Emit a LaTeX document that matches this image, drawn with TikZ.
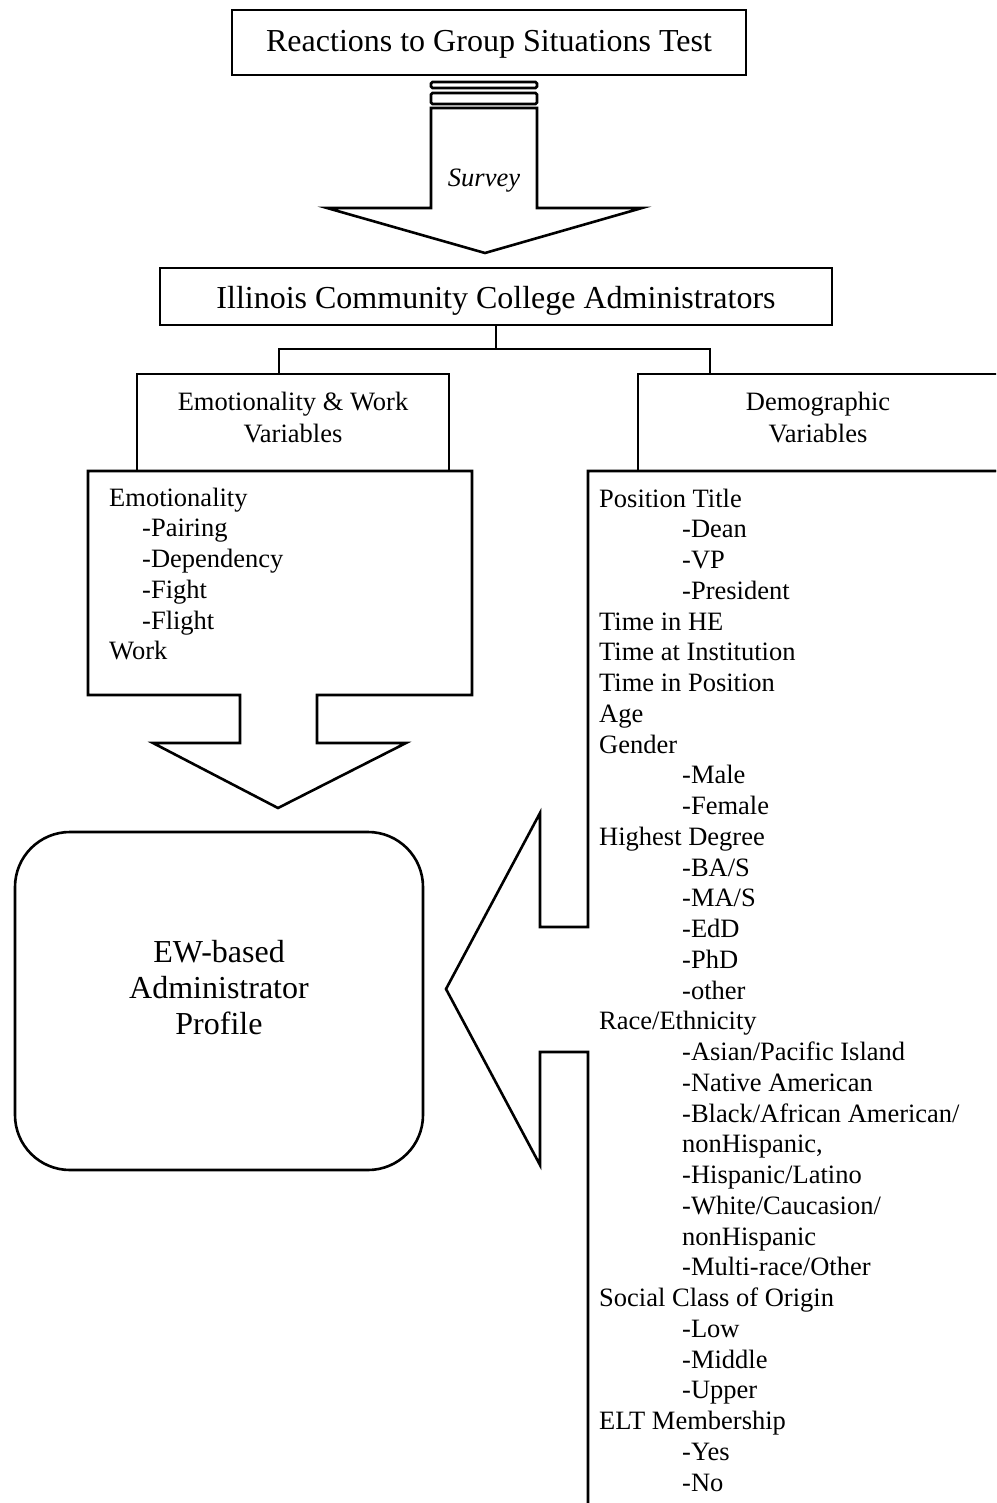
\documentclass[tikz,border=0pt]{standalone}
\usepackage{fontspec}
\setmainfont{Liberation Serif}
\begin{document}
\begin{tikzpicture}[x=1pt,y=-1pt,
  every node/.style={inner sep=0pt},
  outline/.style={draw=black,line width=2.6pt,line join=miter},
  titlebox/.style={outline,rectangle,font=\fontsize{32pt}{36pt}\selectfont,text height=22pt,text depth=3pt},
  headbox/.style={outline,rectangle,align=center,font=\fontsize{26.5pt}{32pt}\selectfont,text depth=10pt},
  listtext/.style={align=left,anchor=north west,font=\fontsize{26.5pt}{30.75pt}\selectfont},
  profbox/.style={outline,rounded corners=55pt,align=center,font=\fontsize{32pt}{36pt}\selectfont,text depth=28pt},
  labeltext/.style={font=\itshape\fontsize{26.5pt}{30pt}\selectfont,anchor=base},
]
\useasboundingbox (0,0) rectangle (996,1503);
\clip (0,0) rectangle (996,1503);

% instrument at the top
\node[titlebox,minimum width=514pt,minimum height=65pt] (rgst) at (489,42.5)
  {Reactions to Group Situations Test};

% block arrow carrying the survey down to the population
\draw[outline,rounded corners=1.5pt] (431,82) rectangle (537,88);
\draw[outline,rounded corners=1.5pt] (431,93) rectangle (537,104);
\draw[outline] (431,108) -- (537,108) -- (537,208) -- (642,208) -- (485,253)
  -- (327,208) -- (431,208) -- cycle;
\node[labeltext] (survey) at (484,187) {Survey};

% surveyed population
\node[titlebox,minimum width=672pt,minimum height=57pt,text height=24pt,text depth=0pt]
  (icca) at (496,296.5) {Illinois Community College Administrators};

% the two groups of variables
\node[headbox,minimum width=312pt,minimum height=97pt] (ewv) at (293,422.5)
  {Emotionality \& Work\\Variables};
\node[headbox,minimum width=360pt,minimum height=97pt] (demo) at (818,422.5)
  {Demographic\\Variables};

\coordinate (split) at (496,349);
\coordinate (ldrop) at (279,349);
\coordinate (rdrop) at (710,349);
\draw[outline] (icca.south) -- (split);
\draw[outline] (ldrop |- ewv.north) -- (ldrop) -- (rdrop) -- (rdrop |- demo.north);

% emotionality and work list, opening into a downward arrow
\draw[outline] (88,471) -- (472,471) -- (472,695) -- (317,695) -- (317,743)
  -- (406,743) -- (278,808) -- (153,743) -- (240,743) -- (240,695)
  -- (88,695) -- cycle;
\node[listtext] (ewlist) at (109,486)
  {\rule{0pt}{20pt}Emotionality\\
   \hspace*{33pt}-Pairing\\
   \hspace*{33pt}-Dependency\\
   \hspace*{33pt}-Fight\\
   \hspace*{33pt}-Flight\\
   Work};

% demographic list, with a left-pointing arrow cut into its edge
\draw[outline] (1000,471) -- (588,471) -- (588,927) -- (540,927) -- (540,813)
  -- (446,989) -- (540,1165) -- (540,1052) -- (588,1052) -- (588,1510);
\node[listtext] (demolist) at (599,487)
  {\rule{0pt}{20pt}Position Title\\
   \hspace*{83pt}-Dean\\
   \hspace*{83pt}-VP\\
   \hspace*{83pt}-President\\
   Time in HE\\
   Time at Institution\\
   Time in Position\\
   Age\\
   Gender\\
   \hspace*{83pt}-Male\\
   \hspace*{83pt}-Female\\
   Highest Degree\\
   \hspace*{83pt}-BA/S\\
   \hspace*{83pt}-MA/S\\
   \hspace*{83pt}-EdD\\
   \hspace*{83pt}-PhD\\
   \hspace*{83pt}-other\\
   Race/Ethnicity\\
   \hspace*{83pt}-Asian/Pacific Island\\
   \hspace*{83pt}-Native American\\
   \hspace*{83pt}-Black/African American/\\
   \hspace*{83pt}nonHispanic,\\
   \hspace*{83pt}-Hispanic/Latino\\
   \hspace*{83pt}-White/Caucasion/\\
   \hspace*{83pt}nonHispanic\\
   \hspace*{83pt}-Multi-race/Other\\
   Social Class of Origin\\
   \hspace*{83pt}-Low\\
   \hspace*{83pt}-Middle\\
   \hspace*{83pt}-Upper\\
   ELT Membership\\
   \hspace*{83pt}-Yes\\
   \hspace*{83pt}-No};

% resulting profile
\node[profbox,minimum width=408pt,minimum height=338pt] (prof) at (219,1001)
  {EW-based\\Administrator\\Profile};
\end{tikzpicture}
\end{document}
